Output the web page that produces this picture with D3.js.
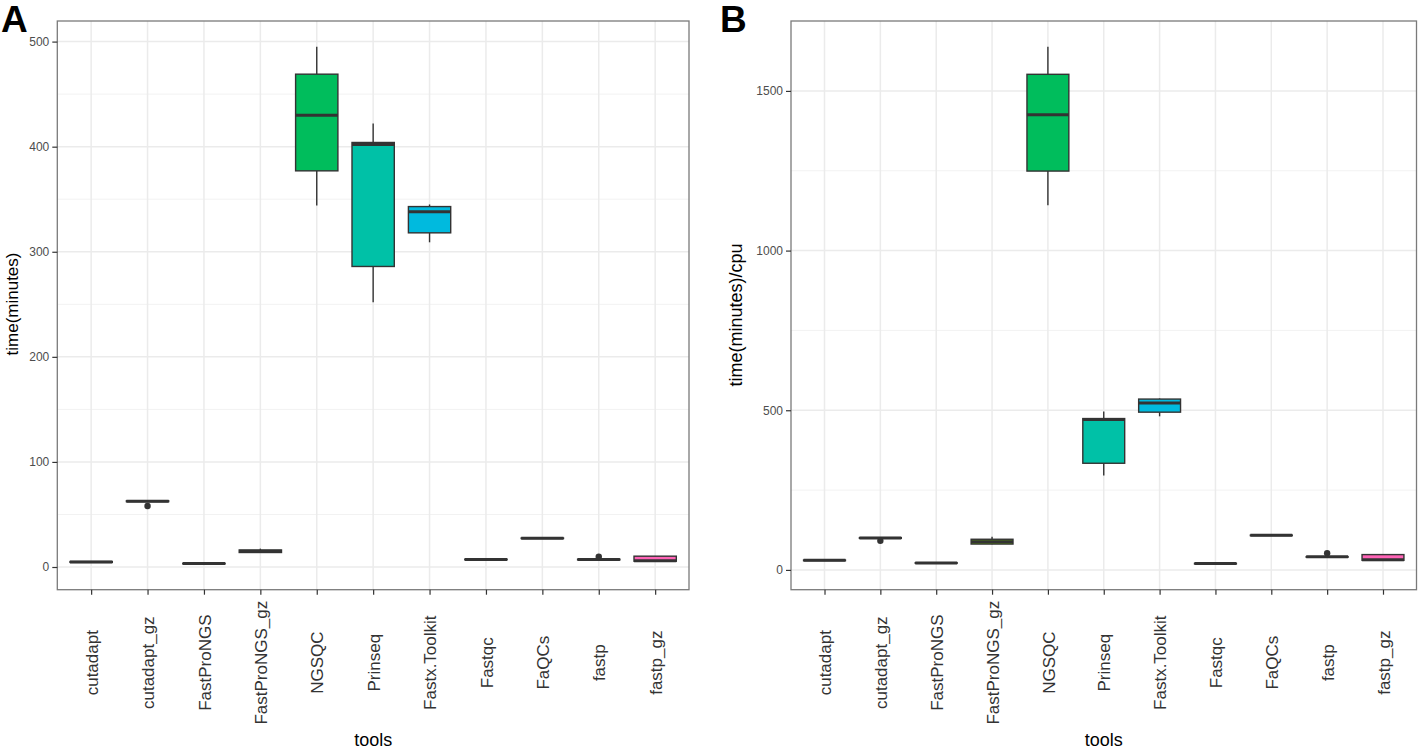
<!DOCTYPE html>
<html>
<head>
<meta charset="utf-8">
<script src="https://cdn.jsdelivr.net/npm/d3@7"></script>
<style>
  html, body { margin: 0; padding: 0; background: #ffffff; }
  svg { display: block; font-family: "Liberation Sans", Arial, sans-serif; }
</style>
</head>
<body>
<svg id="chart" width="1418" height="750"></svg>
<script>
// ---------- data ----------
const categories = ["cutadapt", "cutadapt_gz", "FastProNGS", "FastProNGS_gz", "NGSQC", "Prinseq",
  "Fastx.Toolkit", "Fastqc", "FaQCs", "fastp", "fastp_gz"];

// Panel A: time (minutes)
const timeLow    = [4.2, 62.0, 3.0, 13.5, 344, 252, 309, 6.8, 27.0, 6.6, 5.3];
const timeQ1     = [4.4, 62.2, 3.1, 13.8, 377, 286, 318, 7.0, 27.2, 6.8, 5.5];
const timeMedian = [4.8, 62.6, 3.3, 15.0, 430, 402, 338, 7.2, 27.4, 7.1, 5.9];
const timeQ3     = [5.2, 63.0, 3.5, 16.2, 469, 404, 343, 7.4, 27.6, 7.4, 10.3];
const timeHigh   = [5.4, 63.2, 3.6, 17.5, 495, 422, 345, 7.6, 27.8, 7.6, 10.5];
const timeOutlierTools  = ["cutadapt_gz", "fastp"];
const timeOutlierValues = [58, 9.8];

// Panel B: time (minutes) / cpu
const cpuLow    = [28, 98, 21, 80, 1142, 296, 481, 19, 107.5, 40, 29];
const cpuQ1     = [29, 99, 21.5, 81, 1249, 334, 494, 19.5, 108, 40.5, 30];
const cpuMedian = [30, 100, 22, 88, 1425, 471, 523, 20, 108.5, 41, 31.5];
const cpuQ3     = [31, 101, 22.5, 96, 1552, 474, 535, 20.5, 109, 41.5, 48];
const cpuHigh   = [32, 102, 23, 104, 1638, 496, 537, 21, 109.5, 42, 49];
const cpuOutlierTools  = ["cutadapt_gz", "fastp"];
const cpuOutlierValues = [91, 52];

const timeTicks = [0, 100, 200, 300, 400, 500];
const timeMinor = [50, 150, 250, 350, 450];
const cpuTicks = [0, 500, 1000, 1500];
const cpuMinor = [250, 750, 1250];

// ggplot2 hue palette for 11 levels
const palette = ["#F8766D", "#DB8E00", "#AEA200", "#64B200", "#00BD5C", "#00C1A7",
  "#00BADE", "#00A6FF", "#B385FF", "#EF67EB", "#FF63B6"];

// ---------- drawing ----------
const svg = d3.select("#chart");

function drawPanel(cfg) {
  const {left, right, top, bottom, low, q1, med, q3, high, outTools, outValues,
         ticks, minor, yTitle, yTitleX, yTitleY, yTitleSize, letter, letterX} = cfg;
  const g = svg.append("g");

  const x = d3.scalePoint().domain(categories).range([left, right]).padding(0.6);
  const step = x.step();
  const all = low.concat(high, outValues);
  const mn = d3.min(all), mx = d3.max(all), r = mx - mn;
  const y = d3.scaleLinear().domain([mn - 0.05 * r, mx + 0.05 * r]).range([bottom, top]);

  // background
  g.append("rect").attr("x", left).attr("y", top).attr("width", right - left)
    .attr("height", bottom - top).attr("fill", "#ffffff");

  // minor grid
  g.selectAll(".minor").data(minor).join("line")
    .attr("x1", left).attr("x2", right)
    .attr("y1", d => y(d)).attr("y2", d => y(d))
    .attr("stroke", "#f2f2f2").attr("stroke-width", 1);
  // major grid
  g.selectAll(".majorY").data(ticks).join("line")
    .attr("x1", left).attr("x2", right)
    .attr("y1", d => y(d)).attr("y2", d => y(d))
    .attr("stroke", "#ebebeb").attr("stroke-width", 1.5);
  g.selectAll(".majorX").data(categories).join("line")
    .attr("x1", d => x(d)).attr("x2", d => x(d))
    .attr("y1", top).attr("y2", bottom)
    .attr("stroke", "#ebebeb").attr("stroke-width", 1.5);

  const bw = step * 0.75;
  const boxes = categories.map((c, i) => ({c, i, low: low[i], q1: q1[i], med: med[i], q3: q3[i], high: high[i]}));
  const bg = g.append("g");
  // whiskers
  bg.selectAll(".wu").data(boxes).join("line")
    .attr("x1", d => x(d.c)).attr("x2", d => x(d.c))
    .attr("y1", d => y(d.q3)).attr("y2", d => y(d.high))
    .attr("stroke", "#333333").attr("stroke-width", 1.4);
  bg.selectAll(".wl").data(boxes).join("line")
    .attr("x1", d => x(d.c)).attr("x2", d => x(d.c))
    .attr("y1", d => y(d.q1)).attr("y2", d => y(d.low))
    .attr("stroke", "#333333").attr("stroke-width", 1.4);
  // boxes
  bg.selectAll(".box").data(boxes).join("rect")
    .attr("x", d => x(d.c) - bw / 2).attr("width", bw)
    .attr("y", d => y(d.q3)).attr("height", d => Math.max(0.5, y(d.q1) - y(d.q3)))
    .attr("fill", d => palette[d.i]).attr("stroke", "#333333").attr("stroke-width", 1.4);
  // medians
  bg.selectAll(".med").data(boxes).join("line")
    .attr("x1", d => x(d.c) - bw / 2).attr("x2", d => x(d.c) + bw / 2)
    .attr("y1", d => y(d.med)).attr("y2", d => y(d.med))
    .attr("stroke", "#333333").attr("stroke-width", 3);
  // outliers
  bg.selectAll(".out").data(outTools.map((t, i) => ({t, v: outValues[i]}))).join("circle")
    .attr("cx", d => x(d.t)).attr("cy", d => y(d.v)).attr("r", 3.2)
    .attr("fill", "#333333");

  // border
  g.append("rect").attr("x", left).attr("y", top).attr("width", right - left)
    .attr("height", bottom - top).attr("fill", "none")
    .attr("stroke", "#7a7a7a").attr("stroke-width", 1.3);

  // y axis
  const ya = g.append("g").attr("transform", `translate(${left},0)`)
    .call(d3.axisLeft(y).tickValues(ticks).tickSize(5).tickPadding(3).tickFormat(d3.format("d")));
  ya.select(".domain").remove();
  ya.selectAll(".tick line").attr("stroke", "#333333").attr("stroke-width", 1.2);
  ya.selectAll(".tick text").attr("fill", "#4d4d4d").style("font-size", "12px")
    .style("font-family", "'Liberation Sans', Arial, sans-serif");

  // x axis
  const xa = g.append("g").attr("transform", `translate(0,${bottom})`)
    .call(d3.axisBottom(x).tickSize(5).tickPadding(0));
  xa.select(".domain").remove();
  xa.selectAll(".tick line").attr("stroke", "#333333").attr("stroke-width", 1.2);
  xa.selectAll(".tick text")
    .attr("transform", "translate(0,73) rotate(-90)")
    .attr("x", 0).attr("y", 0).attr("dy", "0.36em")
    .attr("text-anchor", "middle")
    .attr("fill", "#333333").style("font-size", "17px")
    .style("font-family", "'Liberation Sans', Arial, sans-serif");

  // axis titles
  g.append("text").attr("x", (left + right) / 2).attr("y", 746)
    .attr("text-anchor", "middle").attr("fill", "#000").style("font-size", "18px")
    .text("tools");
  g.append("text")
    .attr("transform", `translate(${yTitleX},${yTitleY}) rotate(-90)`)
    .attr("text-anchor", "middle").attr("fill", "#000").style("font-size", yTitleSize)
    .text(yTitle);

  // panel letter
  svg.append("text").attr("x", letterX).attr("y", 32)
    .attr("fill", "#000").style("font-size", "37px").style("font-weight", "bold")
    .style("font-family", "'Liberation Sans', Arial, sans-serif")
    .text(letter);
}

drawPanel({
  left: 57.3, right: 689, top: 21, bottom: 589.7,
  low: timeLow, q1: timeQ1, med: timeMedian, q3: timeQ3, high: timeHigh,
  outTools: timeOutlierTools, outValues: timeOutlierValues,
  ticks: timeTicks, minor: timeMinor,
  yTitle: "time(minutes)", yTitleX: 18, yTitleY: 304, yTitleSize: "17px",
  letter: "A", letterX: 1
});

drawPanel({
  left: 791, right: 1416.5, top: 21, bottom: 589.7,
  low: cpuLow, q1: cpuQ1, med: cpuMedian, q3: cpuQ3, high: cpuHigh,
  outTools: cpuOutlierTools, outValues: cpuOutlierValues,
  ticks: cpuTicks, minor: cpuMinor,
  yTitle: "time(minutes)/cpu", yTitleX: 742, yTitleY: 315, yTitleSize: "18px",
  letter: "B", letterX: 720
});
</script>
</body>
</html>
